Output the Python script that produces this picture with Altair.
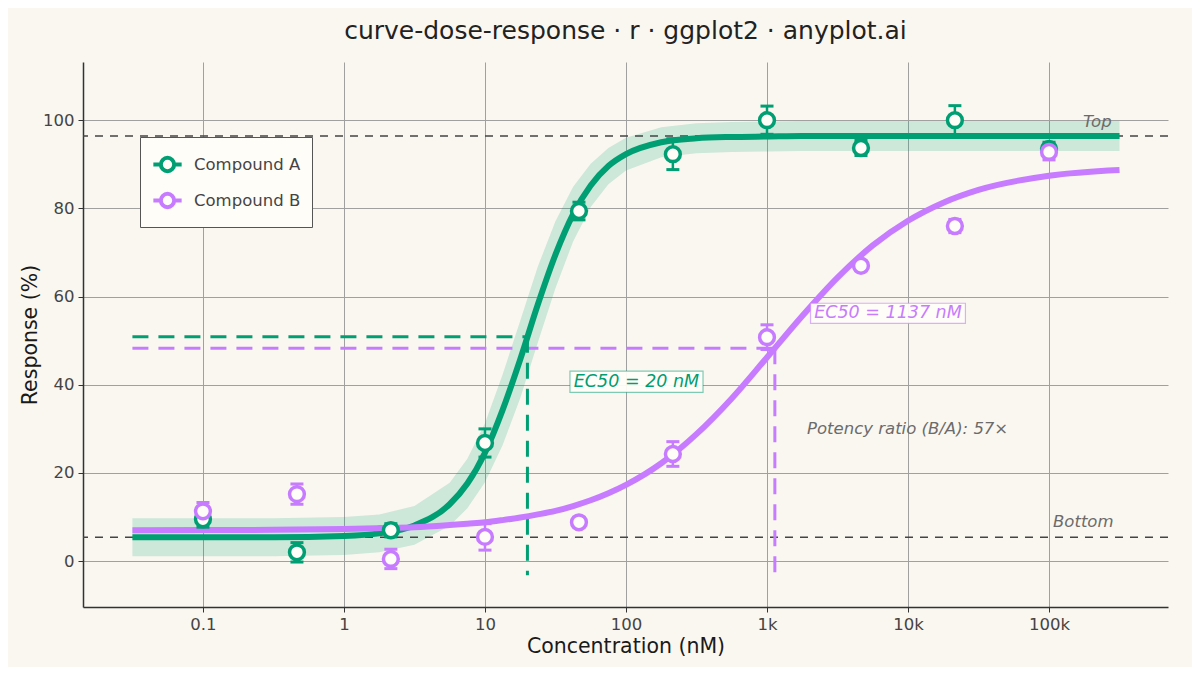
import altair as alt
import pandas as pd

GREEN = "#009E73"
PURPLE = "#C77CFF"
BG = "#FAF7F0"
PAPER = "#FFFDF8"
FONT = "DejaVu Sans"

compounds = ["Compound A", "Compound B"]

# measured responses (mean +/- sd) at each concentration (nM)
dose = [0.1, 0.464, 2.15, 10, 46.4, 215, 1000, 4640, 21500, 100000]
resp_a = [9.5, 2.0, 7.0, 26.8, 79.4, 92.3, 100.0, 93.7, 100.0, 93.5]
err_a = [1.8, 2.2, 1.5, 3.2, 2.0, 3.5, 3.2, 1.7, 3.3, 1.5]
resp_b = [11.3, 15.2, 0.5, 5.5, 8.8, 24.3, 50.8, 67.0, 76.0, 92.8]
err_b = [2.0, 2.3, 2.2, 3.0, 1.0, 2.8, 2.8, 1.0, 1.5, 1.8]

# fitted 4PL curves
fit_conc = [0.0316, 0.1, 0.316, 1, 1.78, 3.16, 5.62, 7.5, 10, 13.3, 17.8, 23.7,
            31.6, 42.2, 56.2, 75, 100, 178, 316, 562, 1000, 1778, 3162, 5623,
            10000, 17783, 31623, 100000, 316228]
fit_a = [5.4, 5.4, 5.4, 5.7, 6.3, 8.1, 12.9, 17.6, 24.6, 34.2, 45.8, 58.2, 69.5,
         78.7, 85.2, 89.6, 92.3, 95.0, 95.9, 96.2, 96.3, 96.4, 96.4, 96.4, 96.4,
         96.4, 96.4, 96.4, 96.4]
band_a_lo = [1.1, 1.1, 1.1, 1.4, 2.0, 3.7, 8.0, 12.0, 17.9, 26.2, 37.0, 49.6, 61.9,
             72.5, 80.3, 85.5, 88.6, 91.6, 92.5, 92.8, 92.9, 93.0, 93.0, 93.0, 93.0,
             93.0, 93.0, 93.0, 93.0]
band_a_hi = [9.7, 9.7, 9.7, 10.0, 10.6, 12.5, 17.8, 23.2, 31.3, 42.2, 54.6, 66.8, 77.1,
             84.9, 90.1, 93.7, 96.0, 98.4, 99.3, 99.6, 99.7, 99.8, 99.8, 99.8, 99.8,
             99.8, 99.8, 99.8, 99.8]
fit_b = [7.0, 7.05, 7.1, 7.3, 7.5, 7.7, 8.2, 8.5, 8.8, 9.3, 9.9, 10.6, 11.4, 12.5,
         13.8, 15.4, 17.3, 22.2, 28.8, 36.9, 46.2, 55.6, 64.3, 71.6, 77.2, 81.3,
         84.2, 87.4, 88.7]

# fit parameters
ec50 = [20, 1137]
half_resp = [50.9, 48.3]
plateaus = [96.4, 5.4]
plateau_names = ["Top", "Bottom"]
plateau_label_x = [220000, 175000]
plateau_label_y = [99.5, 8.8]
guide_start = 0.0316
guide_floor = -3.2

ec50_labels = ["EC50 = 20 nM", "EC50 = 1137 nM"]
ec50_label_x = [118.7, 7210]
ec50_label_y = [40.7, 56.2]
ratio_text = "Potency ratio (B/A): 57×"
ratio_x, ratio_y = 1923, 29.9

x_ticks = [0.1, 1, 10, 100, 1000, 10000, 100000]
x_tick_labels = ["0.1", "1", "10", "100", "1k", "10k", "100k"]
y_ticks = [0, 20, 40, 60, 80, 100]

points = pd.DataFrame({
    "dose": dose * 2,
    "resp": resp_a + resp_b,
    "err": err_a + err_b,
    "compound": [compounds[0]] * len(dose) + [compounds[1]] * len(dose),
})
curves = pd.DataFrame({
    "dose": fit_conc * 2,
    "resp": fit_a + fit_b,
    "compound": [compounds[0]] * len(fit_conc) + [compounds[1]] * len(fit_conc),
})
band = pd.DataFrame({"dose": fit_conc, "lo": band_a_lo, "hi": band_a_hi})
guides = pd.DataFrame({"compound": compounds, "ec50": ec50, "half": half_resp})
guides["start"] = guide_start
guides["floor"] = guide_floor
plateau_df = pd.DataFrame({"level": plateaus, "name": plateau_names,
                           "lx": plateau_label_x, "ly": plateau_label_y})
labels_df = pd.DataFrame({"compound": compounds, "text": ec50_labels,
                          "x": ec50_label_x, "y": ec50_label_y})

label_expr = " : ".join(
    f"datum.value == {v} ? '{t}'" for v, t in zip(x_ticks, x_tick_labels)
) + " : ''"

xs = alt.Scale(type="log", domain=[0.0141, 698000], nice=False)
ys = alt.Scale(domain=[-10.4, 113.2], nice=False, zero=False)
x_axis = alt.Axis(values=x_ticks, labelExpr=label_expr, grid=True)
y_axis = alt.Axis(values=y_ticks, grid=True)
color_scale = alt.Scale(domain=compounds, range=[GREEN, PURPLE])

# line segment + hollow circle, like the ggplot legend key
legend_symbol = ("M-1,0L-0.47,0M0.47,0A0.47,0.47,0,1,1,-0.47,0"
                 "A0.47,0.47,0,1,1,0.47,0M0.47,0L1,0")
legend = alt.Legend(
    title=None, orient="none", legendX=57, legendY=75,
    fillColor=PAPER, strokeColor="#555555", padding=11,
    symbolType=legend_symbol, symbolSize=800, symbolStrokeWidth=4,
    symbolFillColor=PAPER, symbolOpacity=1,
    labelFont=FONT, labelFontSize=16.5, labelColor="#444444",
    labelOffset=10, rowPadding=4,
)


def X(field):
    return alt.X(field, type="quantitative", scale=xs, axis=x_axis,
                 title="Concentration (nM)")


def Y(field):
    return alt.Y(field, type="quantitative", scale=ys, axis=y_axis,
                 title="Response (%)")


color = alt.Color("compound:N", scale=color_scale, legend=legend)

band_layer = alt.Chart(band).mark_area(color=GREEN, opacity=0.18).encode(
    x=X("dose"), y=Y("lo"), y2="hi"
)

plateau_rules = alt.Chart(plateau_df).mark_rule(
    color="#444444", strokeWidth=1.5, strokeDash=[8, 7]
).encode(y=Y("level"))

plateau_text = alt.Chart(plateau_df).mark_text(
    font=FONT, fontSize=16.5, fontStyle="italic", color="#6b6b6b", align="center"
).encode(x=X("lx"), y=Y("ly"), text="name:N")

h_guides = alt.Chart(guides).mark_rule(strokeWidth=3, strokeDash=[16, 10]).encode(
    x=X("start"), x2="ec50", y=Y("half"), color=color
)
v_guides = alt.Chart(guides).mark_rule(strokeWidth=3, strokeDash=[16, 10]).encode(
    x=X("ec50"), y=Y("half"), y2="floor", color=color
)

curve_layer = alt.Chart(curves).mark_line(strokeWidth=6, interpolate="monotone").encode(
    x=X("dose"), y=Y("resp"), color=color
)

err_base = alt.Chart(points).transform_calculate(
    lo="datum.resp - datum.err", hi="datum.resp + datum.err"
)
err_rules = err_base.mark_rule(strokeWidth=2.5).encode(
    x=X("dose"), y=Y("lo"), y2="hi", color=color
)
# caps as short horizontal strokes
err_caps = err_base.transform_fold(["lo", "hi"], as_=["end", "yv"]).mark_point(
    shape="M-1,0L1,0", size=169, strokeWidth=3, filled=False, opacity=1
).encode(x=X("dose"), y=Y("yv"), color=color)

point_layer = alt.Chart(points).mark_point(
    shape="circle", size=220, strokeWidth=3.5, filled=False, fill=PAPER, opacity=1
).encode(x=X("dose"), y=Y("resp"), color=color)

box_a = alt.Chart(labels_df.iloc[[0]]).mark_point(
    shape="M-1,-0.16L1,-0.16L1,0.16L-1,0.16Z", size=17700, filled=True,
    fill=PAPER, fillOpacity=0.95, stroke=GREEN, strokeOpacity=0.5, strokeWidth=1.2
).encode(x=X("x"), y=Y("y"))
box_b = alt.Chart(labels_df.iloc[[1]]).mark_point(
    shape="M-1,-0.13L1,-0.13L1,0.13L-1,0.13Z", size=24000, filled=True,
    fill=PAPER, fillOpacity=0.95, stroke=PURPLE, strokeOpacity=0.6, strokeWidth=1.2
).encode(x=X("x"), y=Y("y"))

text_a = alt.Chart(labels_df.iloc[[0]]).mark_text(
    font=FONT, fontSize=17.5, fontStyle="italic", align="center", baseline="middle",
    color=GREEN
).encode(x=X("x"), y=Y("y"), text="text:N")
text_b = alt.Chart(labels_df.iloc[[1]]).mark_text(
    font=FONT, fontSize=17.5, fontStyle="italic", align="center", baseline="middle",
    color=PURPLE
).encode(x=X("x"), y=Y("y"), text="text:N")

ratio_layer = alt.Chart(pd.DataFrame({"x": [ratio_x], "y": [ratio_y], "t": [ratio_text]})).mark_text(
    font=FONT, fontSize=16.5, fontStyle="italic", color="#6b6b6b", align="left",
    baseline="middle"
).encode(x=X("x"), y=Y("y"), text="t:N")

chart = alt.layer(
    band_layer, plateau_rules, h_guides, v_guides, curve_layer,
    err_rules, err_caps, point_layer, box_a, box_b, text_a, text_b,
    plateau_text, ratio_layer,
).properties(
    width=1085, height=545,
    autosize=alt.AutoSizeParams(type="none"),
    padding={"left": 75, "top": 54, "right": 24, "bottom": 60},
    background=BG,
    title=alt.Title(
        "curve-dose-response · r · ggplot2 · anyplot.ai",
        font=FONT, fontSize=25, fontWeight="normal", color="#222222",
        anchor="middle", offset=18,
    ),
).configure_view(stroke=None).configure_axis(
    gridColor="#A0A0A0", gridWidth=1, domainColor="#333333", domainWidth=1.5,
    tickColor="#333333", tickSize=5, labelFont=FONT, labelFontSize=16.5,
    labelColor="#444444", titleFont=FONT, titleFontSize=20.5,
    titleFontWeight="normal", titleColor="#1a1a1a", labelPadding=4,
).configure_axisX(titlePadding=4).configure_axisY(titlePadding=2)

chart.save("out.html", embed_options={"renderer": "svg", "actions": False})
